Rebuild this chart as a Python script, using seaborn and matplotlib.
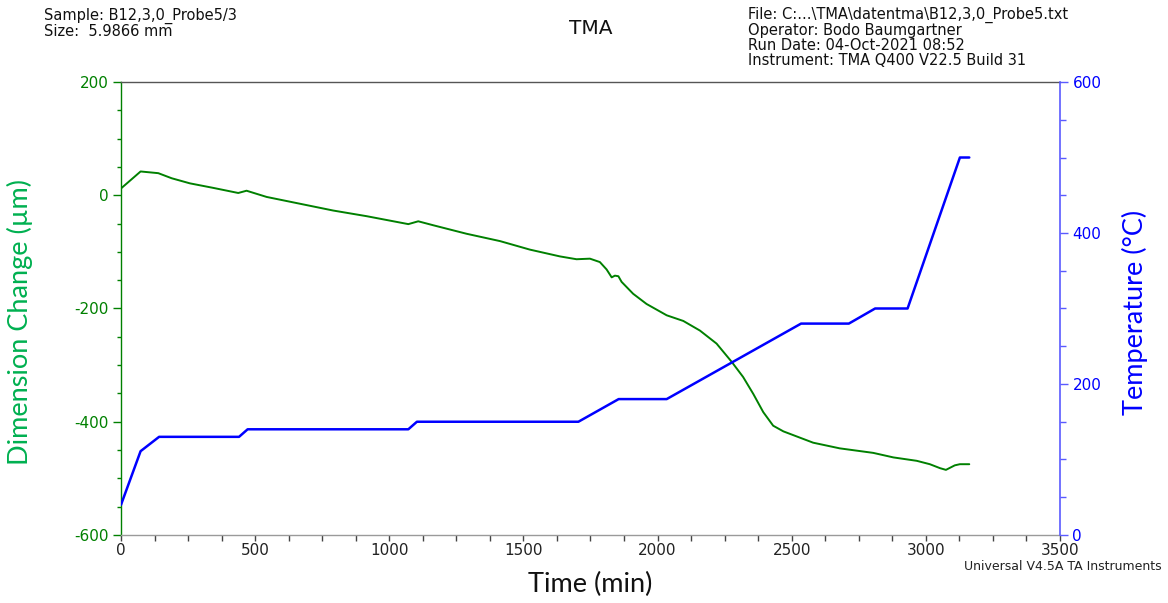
import matplotlib
matplotlib.use("Agg")
import matplotlib.pyplot as plt
from matplotlib.ticker import MultipleLocator
import seaborn as sns

# Dimension change signal (µm) against time (min)
time_dim = [0, 73, 139, 189, 257, 344, 437, 468, 543, 667, 791, 916, 1071, 1108,
            1164, 1288, 1413, 1524, 1636, 1698, 1748, 1785, 1810, 1829, 1841, 1854,
            1866, 1909, 1959, 2034, 2096, 2158, 2220, 2276, 2319, 2357, 2394, 2431,
            2469, 2580, 2679, 2804, 2879, 2966, 3015, 3053, 3075, 3108, 3127, 3162]
dim_change = [12, 42, 39, 30, 21, 13, 4, 8, -3, -15, -27, -37, -51, -46,
              -53, -68, -81, -96, -108, -113, -112, -118, -131, -145, -142, -143,
              -153, -174, -192, -212, -222, -239, -262, -294, -321, -351, -383, -407,
              -417, -437, -447, -455, -463, -469, -475, -482, -485, -477, -475, -475]

# Temperature program (°C) against time (min)
time_temp = [0, 73, 142, 440, 472, 1071, 1103, 1705, 1855, 2034, 2535, 2713, 2811,
             2932, 3127, 3162]
temperature = [40, 111, 130, 130, 140, 140, 150, 150, 180, 180, 280, 280, 300,
               300, 500, 500]

x_ticks = [0, 500, 1000, 1500, 2000, 2500, 3000, 3500]
left_ticks = [-600, -400, -200, 0, 200]
right_ticks = [0, 200, 400, 600]

sns.set_theme(style="ticks")
plt.rcParams["font.family"] = ["DejaVu Sans"]
plt.rcParams["axes.unicode_minus"] = False

GREEN = "#008000"
GREEN_LABEL = "#00b050"
BLUE = "#0000ff"

fig = plt.figure(figsize=(11.68, 6.03), dpi=100)
ax = fig.add_axes([0.1036, 0.1128, 0.8039, 0.7512])
ax2 = ax.twinx()

sns.lineplot(x=time_dim, y=dim_change, ax=ax, color=GREEN, lw=1.4,
             estimator=None, sort=False)
sns.lineplot(x=time_temp, y=temperature, ax=ax2, color=BLUE, lw=1.8,
             estimator=None, sort=False)

ax.set_xlim(0, 3500)
ax.set_ylim(-600, 200)
ax2.set_ylim(0, 600)
ax.set_xticks(x_ticks)
ax.set_yticks(left_ticks)
ax2.set_yticks(right_ticks)
ax.xaxis.set_minor_locator(MultipleLocator(125))
ax.yaxis.set_minor_locator(MultipleLocator(50))
ax2.yaxis.set_minor_locator(MultipleLocator(50))

# spines
ax.spines["left"].set_color(GREEN)
ax.spines["top"].set_color("#555555")
ax.spines["bottom"].set_color("#9a9a9a")
ax.spines["right"].set_visible(False)
ax2.spines["left"].set_visible(False)
ax2.spines["top"].set_visible(False)
ax2.spines["bottom"].set_visible(False)
ax2.spines["right"].set_color("#5a5aff")
for s in ["left", "top", "bottom"]:
    ax.spines[s].set_linewidth(1.0)
ax2.spines["right"].set_linewidth(1.2)

ax.tick_params(axis="y", which="major", colors=GREEN, labelcolor=GREEN,
               length=6, width=1, pad=3, labelsize=11)
ax.tick_params(axis="y", which="minor", colors=GREEN, length=3, width=1)
ax.tick_params(axis="x", which="major", colors="#444444", labelcolor="#222222",
               length=4, width=1, pad=2, labelsize=11)
ax.tick_params(axis="x", which="minor", colors="#444444", length=4, width=1)
ax2.tick_params(axis="y", which="major", colors="#5a5aff", labelcolor=BLUE,
                length=6, width=1, pad=3, labelsize=11)
ax2.tick_params(axis="y", which="minor", colors="#5a5aff", length=4, width=1)

ax.set_xlabel("Time (min)", fontsize=19.5, family=["Lato", "DejaVu Sans"],
              color="#111111")
ax.xaxis.set_label_coords(0.4995, -0.11)
ax.xaxis.label.set_verticalalignment("center")

ax.set_ylabel("Dimension Change (µm)", fontsize=19.5, family=["Lato", "DejaVu Sans"],
              color=GREEN_LABEL)
ax.yaxis.set_label_coords(-0.1076, 0.47)
ax.yaxis.label.set_verticalalignment("center")

ax2.set_ylabel("Temperature (°C)", fontsize=19.5, family=["Lato", "DejaVu Sans"],
               color=BLUE)
ax2.yaxis.set_label_coords(1.0799, 0.492)
ax2.yaxis.label.set_verticalalignment("center")

# header block
fig.text(44 / 1168, 1 - 8 / 603, "Sample: B12,3,0_Probe5/3\nSize:  5.9866 mm",
         ha="left", va="top", fontsize=10.5, linespacing=1.0, color="#111111")
fig.text(591 / 1168, 1 - 28 / 603, "TMA", ha="center", va="center",
         fontsize=14.5, color="#111111")
fig.text(748 / 1168, 1 - 7 / 603,
         "File: C:...\\TMA\\datentma\\B12,3,0_Probe5.txt\n"
         "Operator: Bodo Baumgartner\n"
         "Run Date: 04-Oct-2021 08:52\n"
         "Instrument: TMA Q400 V22.5 Build 31",
         ha="left", va="top", fontsize=10.5, linespacing=1.0, color="#111111")
fig.text(1162 / 1168, 1 - 566 / 603, "Universal V4.5A TA Instruments",
         ha="right", va="center", fontsize=9, color="#222222")

fig.savefig("out.png", dpi=100)
